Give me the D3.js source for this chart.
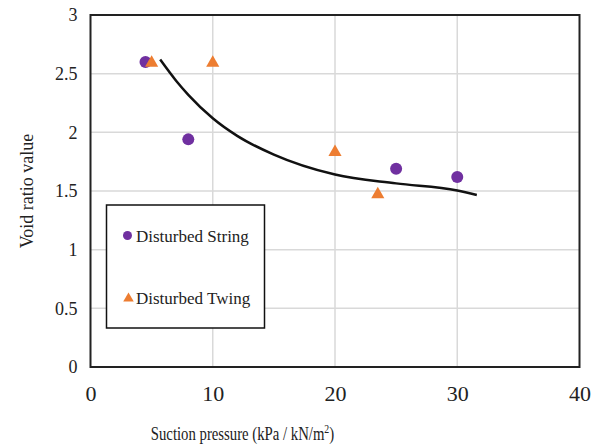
<!DOCTYPE html>
<html>
<head>
<meta charset="utf-8">
<script src="https://cdn.jsdelivr.net/npm/d3@7"></script>
<style>
  body { margin: 0; background: #fff; }
</style>
</head>
<body>
<div id="chart"></div>
<script>
// data
var stringX = [4.5, 8, 25, 30];
var stringY = [2.6, 1.94, 1.69, 1.62];
var twingX = [5, 10, 20, 23.5];
var twingY = [2.6, 2.6, 1.84, 1.48];
// trend line, traced
var trendX = [5.7, 7, 8, 10, 12, 15, 20, 25, 30, 31.6];
var trendY = [2.62, 2.44, 2.32, 2.12, 1.97, 1.81, 1.64, 1.565, 1.505, 1.466];
var xTicks = [0, 10, 20, 30, 40];
var yTicks = [0, 0.5, 1, 1.5, 2, 2.5, 3];

var W = 602, H = 445;
var margin = {left: 90.5, right: 22.5, top: 15, bottom: 78};
var serif = "Liberation Serif";

var svg = d3.select("#chart").append("svg")
  .attr("width", W).attr("height", H)
  .attr("font-family", serif);

var x = d3.scaleLinear().domain([0, 40]).range([margin.left, W - margin.right]);
var y = d3.scaleLinear().domain([0, 3]).range([H - margin.bottom, margin.top]);

// gridlines
svg.append("g").selectAll("line")
  .data(xTicks.slice(1, -1)).enter().append("line")
  .attr("x1", function(d){ return x(d); }).attr("x2", function(d){ return x(d); })
  .attr("y1", y(0)).attr("y2", y(3))
  .attr("stroke", "#d9d9d9").attr("stroke-width", 1.5);
svg.append("g").selectAll("line")
  .data(yTicks.slice(1, -1)).enter().append("line")
  .attr("x1", x(0)).attr("x2", x(40))
  .attr("y1", function(d){ return y(d); }).attr("y2", function(d){ return y(d); })
  .attr("stroke", "#d9d9d9").attr("stroke-width", 1.5);

// plot border
svg.append("rect")
  .attr("x", x(0)).attr("y", y(3))
  .attr("width", x(40) - x(0)).attr("height", y(0) - y(3))
  .attr("fill", "none").attr("stroke", "#222").attr("stroke-width", 2);

// axes, lines hidden
var xAxis = svg.append("g")
  .attr("transform", "translate(0," + y(0) + ")")
  .call(d3.axisBottom(x).tickValues(xTicks).tickSize(0).tickPadding(18))
  .attr("font-family", serif).attr("font-size", 22);
xAxis.select(".domain").remove();
xAxis.selectAll("text").attr("fill", "#222");

var yAxis = svg.append("g")
  .attr("transform", "translate(" + x(0) + ",0)")
  .call(d3.axisLeft(y).tickValues(yTicks).tickFormat(d3.format("")).tickSize(0).tickPadding(13))
  .attr("font-family", serif).attr("font-size", 18);
yAxis.select(".domain").remove();
yAxis.selectAll("text").attr("fill", "#222");

// axis titles
svg.append("text")
  .attr("transform", "translate(27," + ((y(0) + y(3)) / 2) + ") rotate(-90)")
  .attr("text-anchor", "middle").attr("dy", "0.35em")
  .attr("font-size", 18).attr("fill", "#222")
  .text("Void ratio value");

var xt = svg.append("text")
  .attr("transform", "translate(242.5,440) scale(0.82,1)")
  .attr("text-anchor", "middle")
  .attr("font-size", 18).attr("fill", "#222");
xt.append("tspan").text("Suction pressure (kPa / kN/m");
xt.append("tspan").attr("dy", -7).attr("font-size", 12).text("2");
xt.append("tspan").attr("dy", 7).text(")");

// trend line
var pts = trendX.map(function(d, i){ return [d, trendY[i]]; });
var line = d3.line()
  .x(function(d){ return x(d[0]); })
  .y(function(d){ return y(d[1]); })
  .curve(d3.curveMonotoneX);
svg.append("path").datum(pts)
  .attr("d", line)
  .attr("fill", "none").attr("stroke", "#111").attr("stroke-width", 2.5);

var purple = "#7030A0", orange = "#ED7D31";
var tri = d3.symbol().type(d3.symbolTriangle).size(75);

svg.append("g").selectAll("circle")
  .data(stringX).enter().append("circle")
  .attr("cx", function(d){ return x(d); })
  .attr("cy", function(d, i){ return y(stringY[i]); })
  .attr("r", 6).attr("fill", purple);

svg.append("g").selectAll("path")
  .data(twingX).enter().append("path")
  .attr("d", tri)
  .attr("transform", function(d, i){ return "translate(" + x(d) + "," + (y(twingY[i]) + 1) + ")"; })
  .attr("fill", orange);

// legend
var lg = svg.append("g");
lg.append("rect")
  .attr("x", 106.5).attr("y", 205)
  .attr("width", 158).attr("height", 123)
  .attr("fill", "#fff").attr("stroke", "#111").attr("stroke-width", 1.5);
lg.append("circle").attr("cx", 127.5).attr("cy", 235.5).attr("r", 4.5).attr("fill", purple);
lg.append("text").attr("x", 136).attr("y", 241.5)
  .attr("font-size", 17).attr("fill", "#222").text("Disturbed String");
lg.append("path").attr("d", d3.symbol().type(d3.symbolTriangle).size(48))
  .attr("transform", "translate(128.5,298.5)").attr("fill", orange);
lg.append("text").attr("x", 136).attr("y", 303.5)
  .attr("font-size", 17).attr("fill", "#222").text("Disturbed Twing");
</script>
</body>
</html>
